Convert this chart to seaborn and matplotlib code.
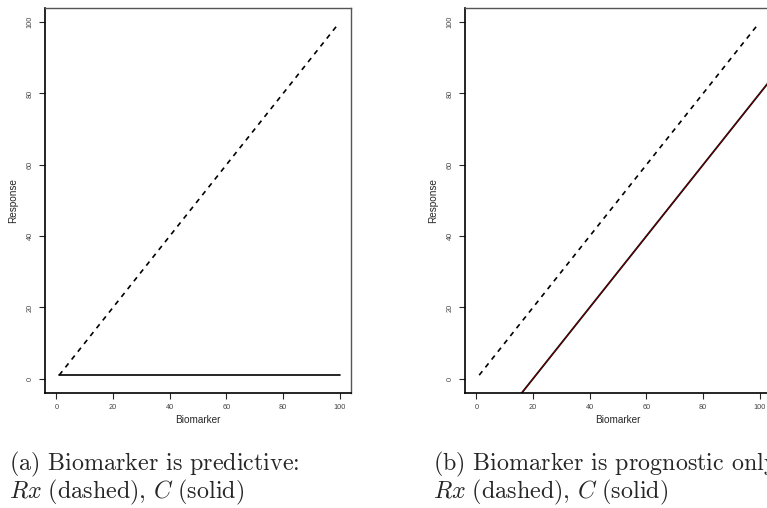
import numpy as np
import pandas as pd
import seaborn as sns
import matplotlib.pyplot as plt

# Line end points
rx_x = [1, 99]
rx_y = [1, 99]

# (a) predictive: control is flat
c_a_x = [1, 100]
c_a_y = [1, 1]

# (b) prognostic only: control is shifted down by 20
c_b_x = [0, 110]
c_b_y = [-20, 90]

ticks = [0, 20, 40, 60, 80, 100]
captions = [
    [r"$\text{(a) Biomarker is predictive:}$",
     r"$Rx\ \text{(dashed), }C\ \text{(solid)}$"],
    [r"$\text{(b) Biomarker is prognostic only:}$",
     r"$Rx\ \text{(dashed), }C\ \text{(solid)}$"],
]
caption_x = [0.012, 0.565]

sns.set_style("white")
plt.rcParams["font.family"] = ["Liberation Sans", "DejaVu Sans"]
plt.rcParams["mathtext.fontset"] = "cm"

fig = plt.figure(figsize=(7.67, 5.08), dpi=100)
ax_a = fig.add_axes([0.0587, 0.2264, 0.399, 0.758])
ax_b = fig.add_axes([0.6063, 0.2264, 0.399, 0.758])

rx = pd.DataFrame({"Biomarker": rx_x, "Response": rx_y})
ca = pd.DataFrame({"Biomarker": c_a_x, "Response": c_a_y})
cb = pd.DataFrame({"Biomarker": c_b_x, "Response": c_b_y})

sns.lineplot(data=rx, x="Biomarker", y="Response", ax=ax_a, color="black",
             linestyle=(0, (3, 3)), linewidth=1.2)
sns.lineplot(data=ca, x="Biomarker", y="Response", ax=ax_a, color="black",
             linewidth=1.2)

sns.lineplot(data=rx, x="Biomarker", y="Response", ax=ax_b, color="black",
             linestyle=(0, (3, 3)), linewidth=1.2)
sns.lineplot(data=cb, x="Biomarker", y="Response", ax=ax_b, color="black",
             linewidth=1.3)
sns.lineplot(data=cb, x="Biomarker", y="Response", ax=ax_b, color="#b00000",
             linewidth=0.4)

for ax, cap, cx in zip([ax_a, ax_b], captions, caption_x):
    ax.set_xlim(-4, 104)
    ax.set_ylim(-4, 104)
    ax.set_xticks(ticks)
    ax.set_yticks(ticks)
    ax.tick_params(axis="both", which="both", direction="out", length=4,
                   width=0.8, labelsize=5.3, labelcolor="#444444",
                   bottom=True, left=True, pad=4)
    for lab in ax.get_yticklabels():
        lab.set_rotation(90)
        lab.set_va("center")
    for side in ["left", "bottom"]:
        ax.spines[side].set_color("black")
        ax.spines[side].set_linewidth(1.2)
    for side in ["top", "right"]:
        ax.spines[side].set_color("#555555")
        ax.spines[side].set_linewidth(1.0)
    ax.set_xlabel("Biomarker", fontsize=7.2, labelpad=3)
    ax.set_ylabel("Response", fontsize=7.2, labelpad=6)
    fig.text(cx, 0.0748, cap[0], fontsize=17.3, ha="left", va="baseline")
    fig.text(cx, 0.0197, cap[1], fontsize=17.3, ha="left", va="baseline")

fig.savefig("out.png", dpi=100)
